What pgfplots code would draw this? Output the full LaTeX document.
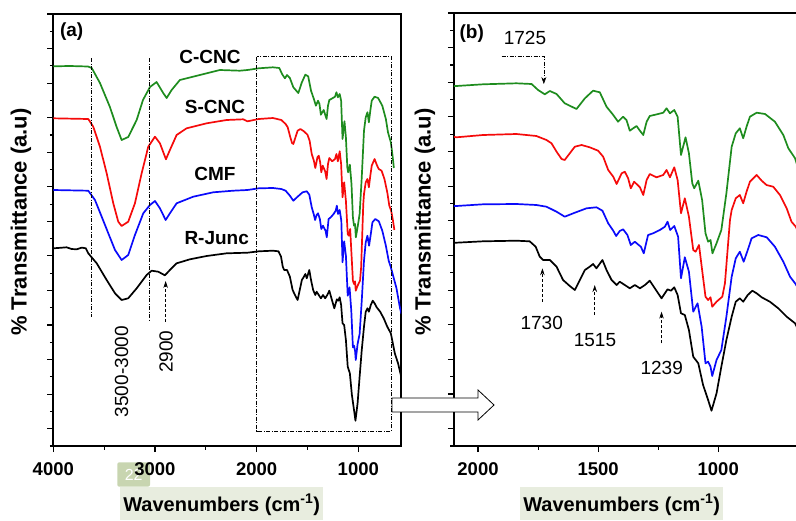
\documentclass[border=0pt]{standalone}
\usepackage{fontspec}
\setmainfont{Liberation Sans}
\usepackage{pgfplots}
\pgfplotsset{compat=1.18}
\usepackage{pgfplotstable}
\usetikzlibrary{arrows.meta}
\newcommand\fs[1]{\fontsize{#1}{#1}\selectfont}
\definecolor{cgreen}{RGB}{30,140,30}
\definecolor{cred}{RGB}{245,10,10}
\definecolor{cblue}{RGB}{10,10,250}
\definecolor{hilite}{RGB}{232,237,223}
\definecolor{badge}{RGB}{200,213,176}

% columns: wavenumber (cm^-1), transmittance (arbitrary units, stacked as in panel b)
\pgfplotstableread{
wn t
4000 82.3
3836 82
3659 82.5
3622 84
3541 99
3443 123
3377 143
3328 156
3263 153
3180 136
3118 116
3049 103
2984 98
2919 109
2885 114
2836 106
2755 96
2558 91
2361 86
2165 86.7
2090 86
1979 84.3
1840 83.3
1777 84
1750 90
1722 94.3
1701 91
1673 94
1639 103.3
1590 109
1555 98.3
1521 90.7
1493 92.3
1465 106.7
1437 115
1417 121.7
1396 116.7
1382 120
1368 130.7
1354 128.3
1340 126
1326 130.7
1312 135
1298 121.7
1285 116
1250 114
1229 112.7
1215 108.3
1201 113.3
1183 110
1169 116.7
1155 155
1136 137.3
1122 153.3
1108 183.3
1100 188.3
1083 180.7
1067 200
1053 233.3
1042 241.7
1032 240
1024 253.3
1007 243.3
987 230
966 193.3
944 146.7
927 133.3
910 128.3
896 138.3
882 126.7
868 116.7
840 112.7
805 114
764 121.7
729 135
708 148.3
680 158.3
665 170
650 184
}\tgreen

\pgfplotstableread{
wn t
4000 134.3
3656 135
3607 142.7
3541 162.7
3475 189.3
3410 219.3
3361 237.7
3328 242
3263 237.7
3197 219.3
3131 189.3
3066 162.7
3000 152.7
2951 159.3
2892 175.3
2853 166
2787 151
2689 144.3
2492 139.3
2295 136
2132 135.3
2090 137.3
1979 135
1840 134
1757 136
1715 140
1694 143.3
1673 151.7
1652 159
1639 160
1618 153.3
1597 146.7
1569 145
1535 147.3
1500 150.7
1479 156.7
1458 170
1437 176.7
1423 184
1402 173.3
1389 171.7
1375 178.3
1364 188.3
1350 181.7
1340 184
1326 187.3
1312 195
1298 180
1285 174
1257 177.3
1229 175
1215 170
1201 177.3
1183 167.3
1169 180
1155 213.3
1139 198.3
1122 216.7
1104 250
1094 251.7
1080 245
1067 270
1053 296.7
1042 300
1032 297.3
1025 306.7
1007 301.7
983 296.7
972 283.3
961 250
951 220
944 210
927 198.3
910 195
896 203.3
882 191.7
868 181.7
840 175
819 180.7
799 185
771 186.7
743 195
715 208.3
695 221.7
677 226.7
660 236
645 246
}\tred

\pgfplotstableread{
wn t
4000 206
3656 206.7
3590 216
3524 232.7
3459 249.3
3393 266
3328 276
3263 271
3197 251
3115 229.3
3049 221
3000 217
2951 224.3
2895 236
2853 229.3
2787 219.3
2624 212.7
2427 208.3
2231 206.7
2090 206
1979 204.3
1840 204
1757 205
1715 206.7
1673 211.7
1639 216.7
1597 212.7
1548 208.3
1507 207.3
1482 210.7
1458 223.3
1437 230.7
1425 236
1410 231
1396 229.3
1378 235
1364 245
1347 241.7
1336 244
1322 246.7
1310 253.3
1292 235
1271 233.3
1243 230
1222 226.7
1211 221.7
1200 230
1183 226
1167 236.7
1155 278.3
1139 257.3
1122 271.7
1104 311.7
1086 303.3
1069 326.7
1053 363.3
1042 361.7
1032 366.7
1025 376
1007 360
987 350
966 316.7
944 276.7
927 258.3
910 251.7
894 261.7
877 250
861 238.3
833 235
798 237.3
764 246.7
729 261.7
701 276.7
680 283.3
625 304
590 324
575 330
}\tblue

\pgfplotstableread{
wn t
4000 238.3
3930 237.8
3870 237.3
3820 239.0
3770 239.3
3720 237.6
3680 238.3
3656 243.3
3573 253.3
3475 270
3393 283.3
3328 290
3263 288.3
3180 278.3
3082 265
3033 260.7
2968 261.7
2902 265.3
2853 260
2787 253.3
2656 249.3
2492 246
2295 243.3
2090 242.7
1979 241.3
1840 240.7
1785 241.3
1760 246.7
1743 256.7
1729 260
1701 260
1673 266.7
1646 280
1618 286
1597 290
1576 280
1555 270
1535 266.7
1521 264
1507 268.3
1482 260
1465 270
1444 280
1423 285
1410 281.7
1389 285
1368 288.3
1347 285
1326 288.3
1305 285
1285 280.7
1264 288.3
1236 298.3
1211 289.3
1197 290.7
1183 287.3
1169 295
1155 313.3
1139 315
1122 330
1104 356.7
1083 363.3
1063 385
1042 400
1028 410.7
1007 393.3
987 366.7
966 340
944 316.7
927 301.7
910 298.3
896 301.7
877 295
858 290.7
840 293.3
819 297.3
785 301.7
750 308.3
715 316.7
680 323.3
641 343.3
609 353.3
575 368
}\tblack

\pgfplotsset{
  ftir/.style={
    scale only axis,
    x dir=reverse, y dir=reverse,
    tick align=outside,
    xtick pos=left, ytick pos=left,
    minor tick num=1,
    major tick length=6pt, minor tick length=3.5pt,
    every tick/.style={black, line width=1.1pt},
    axis line style={line width=1.6pt},
    yticklabels={},
    xticklabel style={font=\fs{18.5}\bfseries, yshift=-7pt},
    /pgf/number format/1000 sep={},
    /pgf/number format/assume math mode=true,
    clip=true,
  },
  curve/.style={line width=1.7pt, line join=round},
}

\begin{document}
\begin{tikzpicture}
\useasboundingbox (0,0) rectangle (796pt,-521pt);
\begin{scope}[x=1pt,y=-1pt]
  \fill[hilite] (120,486.7) rectangle (323.3,520);
  \fill[hilite] (520,486.7) rectangle (723.3,520);
  \fill[badge, rounded corners=2pt] (117.3,462.3) rectangle (150,486.7);
  \node[white, font=\fs{16}] at (133.7,474.5) {22};
\end{scope}

% ---------------- panel (a)
\begin{axis}[ftir, at={(53.3pt,-446pt)}, anchor=south west,
  width=347.7pt, height=432pt,
  xmin=580, xmax=4000, ymin=14, ymax=446,
  xtick={1000,2000,3000,4000},
  ytick={14,48.56,...,446}]
  \addplot[curve, cgreen] table[x=wn, y expr=\thisrow{t}-16] {\tgreen};
  \addplot[curve, cred]   table[x=wn, y expr=\thisrow{t}-16] {\tred};
  \addplot[curve, cblue]  table[x=wn, y expr=\thisrow{t}-16] {\tblue};
  \addplot[curve, black]  table[x=wn, y expr=\thisrow{t}+10] {\tblack};
  \draw[black, line width=0.6pt, dash pattern=on 4pt off 1.5pt on 1pt off 1.5pt]
     (axis cs:2000,56.7) rectangle (axis cs:675,431);
  \draw[black, line width=0.6pt, dash pattern=on 4pt off 1.5pt on 1pt off 1.5pt]
     (axis cs:3622,58) -- (axis cs:3622,317);
  \draw[black, line width=0.6pt, dash pattern=on 4pt off 1.5pt on 1pt off 1.5pt]
     (axis cs:3056,58) -- (axis cs:3056,320);
  \draw[black, line width=0.6pt, densely dashed, -{Stealth[length=7pt,width=4.5pt]}]
     (axis cs:2895,321.7) -- (axis cs:2895,281);
\end{axis}

% ---------------- panel (b)
\begin{axis}[ftir, at={(454pt,-446pt)}, anchor=south west,
  width=355.5pt, height=433pt,
  xmin=620, xmax=2100, ymin=13, ymax=446,
  xtick={1000,1500,2000},
  ytick={13,47.64,...,446}]
  \addplot[curve, cgreen] table[x=wn, y=t] {\tgreen};
  \addplot[curve, cred]   table[x=wn, y=t] {\tred};
  \addplot[curve, cblue]  table[x=wn, y=t] {\tblue};
  \addplot[curve, black]  table[x=wn, y=t] {\tblack};
  \draw[black, line width=0.6pt, dash pattern=on 4pt off 1.5pt on 1pt off 1.5pt, -{Stealth[length=7pt,width=5pt]}]
     (axis cs:1902,56) -- (axis cs:1726,56) -- (axis cs:1726,84);
  \draw[black, line width=0.6pt, densely dashed, -{Stealth[length=7pt,width=4.5pt]}]
     (axis cs:1732,301.7) -- (axis cs:1732,268.3);
  \draw[black, line width=0.6pt, densely dashed, -{Stealth[length=7pt,width=4.5pt]}]
     (axis cs:1514,315) -- (axis cs:1514,285);
  \draw[black, line width=0.6pt, densely dashed, -{Stealth[length=7pt,width=4.5pt]}]
     (axis cs:1236,343.3) -- (axis cs:1236,311.7);
\end{axis}

\begin{scope}[x=1pt,y=-1pt]
  % hollow arrow
  \draw[black, fill=white, line width=0.8pt, line join=miter]
    (392,398) -- (478,398) -- (478,390) -- (494,405) -- (478,420) -- (478,412) -- (392,412) -- cycle;
  % panel letters
  \node[font=\fs{19}\bfseries] at (71.7,31.7) {(a)};
  \node[font=\fs{19}\bfseries] at (471.7,33.3) {(b)};
  % curve labels
  \node[font=\fs{19}\bfseries] at (210,57.3) {C-CNC};
  \node[font=\fs{19}\bfseries] at (215,106.7) {S-CNC};
  \node[font=\fs{19}\bfseries] at (215,174) {CMF};
  \node[font=\fs{19}\bfseries] at (216.7,237.7) {R-Junc};
  % annotations
  \node[font=\fs{19}, rotate=90] at (121.7,371.7) {3500-3000};
  \node[font=\fs{19}, rotate=90] at (166,351.7) {2900};
  \node[font=\fs{19}] at (525,38.3) {1725};
  \node[font=\fs{19}] at (541.7,323.3) {1730};
  \node[font=\fs{19}] at (595,340) {1515};
  \node[font=\fs{19}] at (661.7,368.3) {1239};
  % axis titles
  \node[font=\fs{22}\bfseries, rotate=90] at (21,222) {\% Transmittance (a.u)};
  \node[font=\fs{22}\bfseries, rotate=90] at (425,222) {\% Transmittance (a.u)};
  \node[font=\fs{20}\bfseries] at (221.7,505) {Wavenumbers (cm\textsuperscript{-1})};
  \node[font=\fs{20}\bfseries] at (621.7,505) {Wavenumbers (cm\textsuperscript{-1})};
\end{scope}
\end{tikzpicture}
\end{document}
